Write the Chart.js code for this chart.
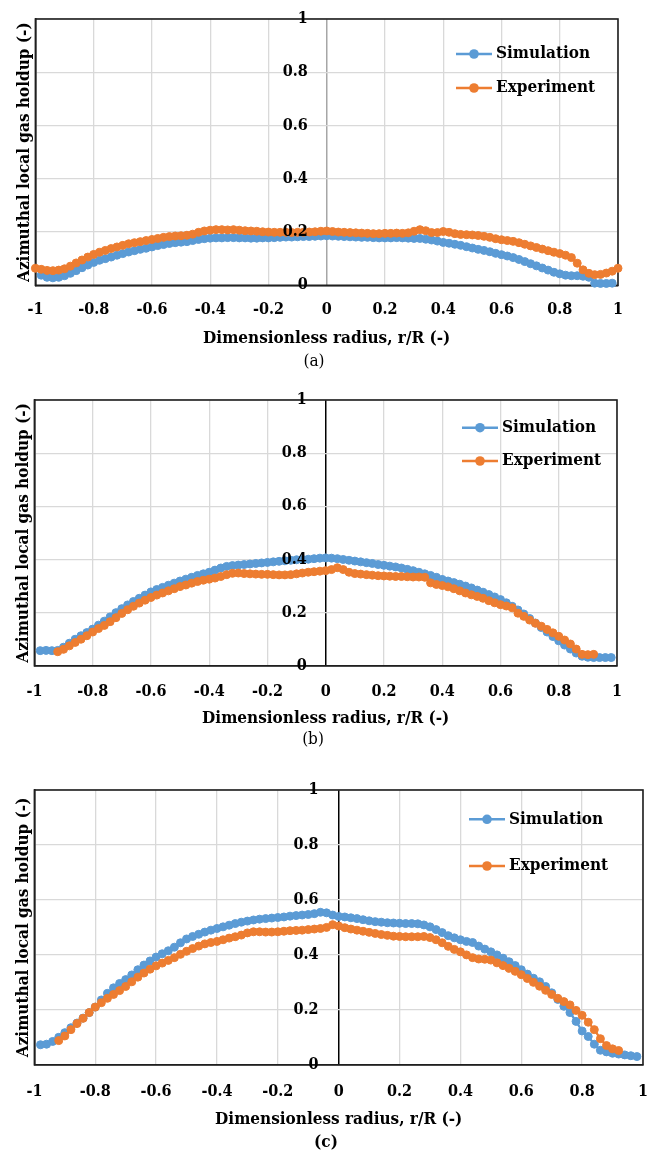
<!DOCTYPE html>
<html>
<head>
<meta charset="utf-8">
<title>Azimuthal local gas holdup</title>
<script src="https://cdn.jsdelivr.net/npm/chart.js@4.4.1/dist/chart.umd.min.js"></script>
<style>
  html, body { margin: 0; padding: 0; background: #fff; overflow: hidden; }
  .panel { position: absolute; left: 0; }
  canvas { display: block; }
</style>
</head>
<body>
<div class="panel" style="top:0px"><canvas id="chart-a" width="648" height="376"></canvas></div>
<div class="panel" style="top:381px"><canvas id="chart-b" width="648" height="373"></canvas></div>
<div class="panel" style="top:771px"><canvas id="chart-c" width="648" height="382"></canvas></div>
<script>
// dimensionless radius r/R, shared by all series
const radius = [
  -1, -0.98, -0.96, -0.94, -0.92, -0.9, -0.88, -0.86, -0.84, -0.82,
  -0.8, -0.78, -0.76, -0.74, -0.72, -0.7, -0.68, -0.66, -0.64, -0.62,
  -0.6, -0.58, -0.56, -0.54, -0.52, -0.5, -0.48, -0.46, -0.44, -0.42,
  -0.4, -0.38, -0.36, -0.34, -0.32, -0.3, -0.28, -0.26, -0.24, -0.22,
  -0.2, -0.18, -0.16, -0.14, -0.12, -0.1, -0.08, -0.06, -0.04, -0.02,
  0, 0.02, 0.04, 0.06, 0.08, 0.1, 0.12, 0.14, 0.16, 0.18,
  0.2, 0.22, 0.24, 0.26, 0.28, 0.3, 0.32, 0.34, 0.36, 0.38,
  0.4, 0.42, 0.44, 0.46, 0.48, 0.5, 0.52, 0.54, 0.56, 0.58,
  0.6, 0.62, 0.64, 0.66, 0.68, 0.7, 0.72, 0.74, 0.76, 0.78,
  0.8, 0.82, 0.84, 0.86, 0.88, 0.9, 0.92, 0.94, 0.96, 0.98,
  1
];

// (a)
const simA = [
  null, 0.038, 0.030, 0.028, 0.030, 0.036, 0.045, 0.055, 0.066, 0.076,
  0.086, 0.094, 0.100, 0.106, 0.113, 0.119, 0.125, 0.130, 0.135, 0.139,
  0.144, 0.149, 0.153, 0.157, 0.160, 0.162, 0.164, 0.168, 0.172, 0.175,
  0.177, 0.178, 0.178, 0.179, 0.179, 0.178, 0.178, 0.177, 0.177, 0.178,
  0.178, 0.179, 0.180, 0.181, 0.181, 0.182, 0.183, 0.183, 0.184, 0.185,
  0.186, 0.185, 0.184, 0.183, 0.182, 0.181, 0.180, 0.180, 0.179, 0.178,
  0.178, 0.178, 0.179, 0.178, 0.177, 0.176, 0.176, 0.173, 0.170, 0.166,
  0.161, 0.158, 0.154, 0.150, 0.145, 0.140, 0.135, 0.131, 0.126, 0.120,
  0.115, 0.110, 0.104, 0.097, 0.089, 0.081, 0.073, 0.065, 0.057, 0.049,
  0.043, 0.038, 0.036, 0.036, 0.034, 0.030, 0.008, 0.007, 0.007, 0.008,
  null
];
const expA = [
  0.064, 0.060, 0.056, 0.055, 0.057, 0.062, 0.072, 0.084, 0.095, 0.106,
  0.116, 0.124, 0.131, 0.138, 0.144, 0.150, 0.156, 0.160, 0.164, 0.168,
  0.172, 0.176, 0.180, 0.183, 0.185, 0.186, 0.188, 0.192, 0.199, 0.204,
  0.207, 0.209, 0.209, 0.208, 0.209, 0.207, 0.205, 0.204, 0.203, 0.201,
  0.200, 0.199, 0.199, 0.199, 0.198, 0.199, 0.199, 0.200, 0.201, 0.203,
  0.204, 0.202, 0.200, 0.199, 0.198, 0.197, 0.196, 0.195, 0.194, 0.194,
  0.195, 0.195, 0.196, 0.195, 0.197, 0.203, 0.209, 0.205, 0.198, 0.198,
  0.202, 0.199, 0.194, 0.191, 0.190, 0.189, 0.187, 0.184, 0.180, 0.175,
  0.171, 0.168, 0.165, 0.160, 0.154, 0.148, 0.142, 0.136, 0.130, 0.124,
  0.119, 0.113, 0.104, 0.083, 0.058, 0.045, 0.040, 0.041, 0.046, 0.053,
  0.064
];

// (b)
const simB = [
  null, 0.057, 0.058, 0.057, 0.058, 0.070, 0.085, 0.100, 0.113, 0.125,
  0.138, 0.153, 0.168, 0.184, 0.200, 0.215, 0.229, 0.242, 0.254, 0.266,
  0.278, 0.287, 0.295, 0.303, 0.311, 0.319, 0.326, 0.333, 0.340, 0.346,
  0.352, 0.360, 0.368, 0.374, 0.377, 0.379, 0.381, 0.383, 0.385, 0.387,
  0.389, 0.391, 0.393, 0.395, 0.397, 0.399, 0.400, 0.401, 0.403, 0.405,
  0.406, 0.405, 0.403, 0.400, 0.397, 0.394, 0.391, 0.388, 0.385, 0.381,
  0.378, 0.375, 0.372, 0.368, 0.363, 0.358, 0.352, 0.346, 0.340, 0.333,
  0.325, 0.319, 0.313, 0.307, 0.300, 0.293, 0.285, 0.277, 0.268, 0.259,
  0.249, 0.237, 0.224, 0.210, 0.195, 0.178, 0.161, 0.144, 0.127, 0.110,
  0.094, 0.078, 0.063, 0.048, 0.036, 0.032, 0.031, 0.031, 0.031, 0.031,
  null
];
const expB = [
  null, null, null, null, 0.053, 0.062, 0.075, 0.088, 0.100, 0.113,
  0.127, 0.140, 0.152, 0.166, 0.181, 0.197, 0.211, 0.224, 0.236, 0.247,
  0.257, 0.266, 0.274, 0.282, 0.290, 0.298, 0.304, 0.311, 0.317, 0.322,
  0.326, 0.330, 0.336, 0.343, 0.348, 0.349, 0.347, 0.346, 0.345, 0.344,
  0.344, 0.343, 0.342, 0.342, 0.343, 0.346, 0.349, 0.352, 0.354, 0.356,
  0.358, 0.362, 0.369, 0.362, 0.352, 0.347, 0.345, 0.343, 0.341, 0.339,
  0.338, 0.337, 0.336, 0.336, 0.335, 0.334, 0.334, 0.333, 0.312, 0.306,
  0.302, 0.297, 0.290, 0.282, 0.274, 0.267, 0.261, 0.254, 0.245, 0.237,
  0.230, 0.225, 0.218, 0.198, 0.186, 0.172, 0.160, 0.149, 0.137, 0.124,
  0.111, 0.097, 0.082, 0.063, 0.043, 0.042, 0.043, null, null, null,
  null
];

// (c)
const simC = [
  null, 0.073, 0.075, 0.085, 0.100, 0.117, 0.135, 0.152, 0.170, 0.190,
  0.210, 0.236, 0.260, 0.280, 0.296, 0.310, 0.327, 0.346, 0.363, 0.378,
  0.392, 0.404, 0.415, 0.428, 0.444, 0.458, 0.467, 0.475, 0.483, 0.490,
  0.496, 0.502, 0.508, 0.514, 0.519, 0.523, 0.527, 0.530, 0.532, 0.534,
  0.536, 0.538, 0.541, 0.543, 0.545, 0.547, 0.550, 0.555, 0.553, 0.545,
  0.540, 0.538, 0.535, 0.532, 0.528, 0.524, 0.521, 0.519, 0.517, 0.516,
  0.515, 0.514, 0.514, 0.513, 0.509, 0.502, 0.492, 0.481, 0.470, 0.462,
  0.455, 0.449, 0.445, 0.432, 0.421, 0.411, 0.400, 0.388, 0.375, 0.361,
  0.346, 0.330, 0.315, 0.302, 0.285, 0.262, 0.238, 0.213, 0.190, 0.158,
  0.123, 0.103, 0.075, 0.053, 0.047, 0.042, 0.039, 0.036, 0.033, 0.030,
  null
];
const expC = [
  null, null, null, null, 0.088, 0.105, 0.128, 0.150, 0.169, 0.190,
  0.210, 0.226, 0.242, 0.256, 0.270, 0.285, 0.302, 0.319, 0.334, 0.348,
  0.360, 0.370, 0.380, 0.390, 0.402, 0.413, 0.423, 0.432, 0.440, 0.445,
  0.449, 0.455, 0.461, 0.466, 0.472, 0.480, 0.484, 0.484, 0.483, 0.483,
  0.484, 0.486, 0.488, 0.489, 0.490, 0.492, 0.494, 0.496, 0.500, 0.510,
  0.505, 0.499, 0.494, 0.490, 0.486, 0.482, 0.478, 0.474, 0.471, 0.468,
  0.467, 0.466, 0.466, 0.466, 0.467, 0.463, 0.455, 0.444, 0.431, 0.420,
  0.411, 0.400, 0.390, 0.385, 0.384, 0.381, 0.371, 0.361, 0.351, 0.340,
  0.328, 0.314, 0.300, 0.286, 0.271, 0.256, 0.242, 0.230, 0.218, 0.198,
  0.180, 0.155, 0.128, 0.095, 0.070, 0.058, 0.052, null, null, null,
  null
];

const seriesNames = ['Simulation', 'Experiment'];
const seriesColors = ['#5b9bd5', '#ed7d31'];
const xTitle = 'Dimensionless radius, r/R (-)';
const yTitle = 'Azimuthal local gas holdup (-)';

const FONT = "'DejaVu Serif Condensed', 'DejaVu Serif', serif";
Chart.defaults.font.family = FONT;
Chart.defaults.color = '#000';

const fmt = v => String(Math.round(v * 10) / 10);

// black frame round the plot area, like the Excel original
const plotFrame = {
  id: 'plotFrame',
  beforeDatasetsDraw(chart) {
    const { ctx, chartArea: a } = chart;
    ctx.save();
    ctx.strokeStyle = '#1f1f1f';
    ctx.lineWidth = 1.6;
    ctx.strokeRect(a.left, a.top, a.right - a.left, a.bottom - a.top);
    ctx.restore();
  }
};

// legend entries drawn as line + marker, as Excel does
const lineLegend = {
  id: 'lineLegend',
  afterDraw(chart, args, opts) {
    const ctx = chart.ctx;
    chart.data.datasets.forEach((ds, i) => {
      const y = opts.rows[i];
      ctx.save();
      ctx.strokeStyle = ds.borderColor;
      ctx.lineWidth = 2.5;
      ctx.beginPath();
      ctx.moveTo(opts.x, y);
      ctx.lineTo(opts.x + 36, y);
      ctx.stroke();
      ctx.fillStyle = ds.borderColor;
      ctx.beginPath();
      ctx.arc(opts.x + 18, y, 4.8, 0, Math.PI * 2);
      ctx.fill();
      ctx.fillStyle = '#000';
      ctx.font = 'bold 17px ' + FONT;
      ctx.textBaseline = 'middle';
      ctx.fillText(ds.label, opts.x + 40, y);
      ctx.restore();
    });
  }
};

function makePanel(id, sim, exp, p) {
  const toPoints = vals => radius.map((r, i) => ({ x: r, y: vals[i] }));
  return new Chart(document.getElementById(id), {
    type: 'line',
    data: {
      datasets: [sim, exp].map((vals, i) => ({
        label: seriesNames[i],
        data: toPoints(vals),
        borderColor: seriesColors[i],
        backgroundColor: seriesColors[i],
        pointBackgroundColor: seriesColors[i],
        pointBorderColor: seriesColors[i],
        borderWidth: 2.25,
        pointRadius: 4,
        pointBorderWidth: 1,
        clip: false,
        order: 2 - i
      }))
    },
    options: {
      responsive: false,
      animation: false,
      events: [],
      layout: { padding: p.padding },
      scales: {
        x: {
          type: 'linear',
          position: 'bottom',
          min: -1, max: 1,
          ticks: { stepSize: 0.2, callback: fmt, padding: p.xTickPad, maxRotation: 0,
                   font: { size: 16, weight: 'bold' }, color: '#000' },
          grid: {
            color: c => (c.tick && c.tick.value === 0) ? p.centerColor : '#d9d9d9',
            lineWidth: c => (c.tick && c.tick.value === 0) ? 1.5 : 1.3,
            drawTicks: false
          },
          border: { color: '#1f1f1f', width: 1.6 },
          title: { display: true, text: xTitle, color: '#000',
                   font: { size: 17, weight: 'bold' }, padding: { top: 8, bottom: 0 } },
          afterFit(s) {
            s.height = p.xHeight;
            s.paddingLeft = 0;
            s.paddingRight = 0;
          }
        },
        y: {
          position: 'left',
          min: 0, max: 1,
          ticks: { stepSize: 0.2, display: false },
          grid: { color: '#d9d9d9', lineWidth: 1.3, drawTicks: false },
          border: { color: '#1f1f1f', width: 1.6 },
          title: { display: true, text: yTitle, color: '#000',
                   font: { size: 17, weight: 'bold' }, padding: { top: 4, bottom: 1 } }
        },
        // tick labels of the vertical axis sit beside the r/R = 0 line
        yc: {
          axis: 'y',
          position: { x: p.labelAt },
          min: 0, max: 1,
          ticks: { stepSize: 0.2, callback: fmt, padding: 0, z: 1,
                   font: { size: 16, weight: 'bold' }, color: '#000' },
          grid: { display: false, drawTicks: false },
          border: { display: false },
          afterFit(s) {
            s.paddingTop = 0;
            s.paddingBottom = 0;
          }
        }
      },
      plugins: {
        legend: { display: false },
        tooltip: { enabled: false },
        title: {
          display: true,
          position: 'bottom',
          text: p.caption,
          color: '#000',
          font: { size: 17, weight: p.captionWeight, lineHeight: 1.2 },
          padding: { top: p.capPad, bottom: p.capBottom }
        },
        lineLegend: p.legend
      }
    },
    plugins: [plotFrame, lineLegend]
  });
}

makePanel('chart-a', simA, expA, {
  padding: { left: 10, right: 30, top: 19, bottom: 2 },
  xTickPad: 15, xHeight: 63, labelAt: -0.065,
  centerColor: '#a6a6a6',
  caption: '(a)', captionWeight: 'normal', capPad: 3.3, capBottom: 2,
  legend: { x: 456, rows: [54, 88] }
});

makePanel('chart-b', simB, expB, {
  padding: { left: 9, right: 31, top: 19, bottom: 2 },
  xTickPad: 16, xHeight: 62.5, labelAt: -0.065,
  centerColor: '#000000',
  caption: '(b)', captionWeight: 'normal', capPad: 1.3, capBottom: 2,
  legend: { x: 462, rows: [46.7, 80] }
});

makePanel('chart-c', simC, expC, {
  padding: { left: 9, right: 5, top: 19, bottom: 0 },
  xTickPad: 17, xHeight: 65.2, labelAt: -0.066,
  centerColor: '#000000',
  caption: '(c)', captionWeight: 'bold', capPad: 2.6, capBottom: 0,
  legend: { x: 469, rows: [48.3, 95] }
});
</script>
</body>
</html>
